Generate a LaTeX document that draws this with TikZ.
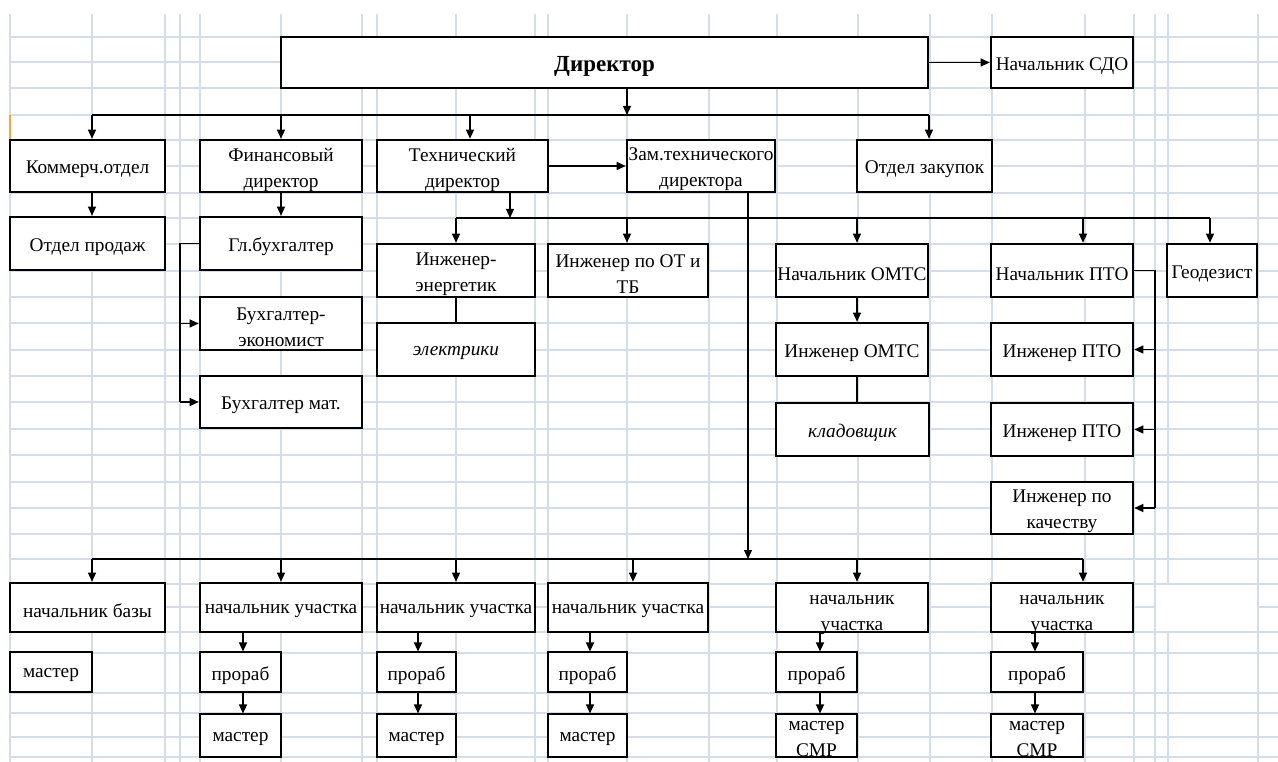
\documentclass[tikz,border=0pt]{standalone}
\usepackage{fontspec}
\setmainfont{Liberation Serif}
\usetikzlibrary{arrows.meta}
\newcommand\nf{\fontsize{19.3}{26}\selectfont}
\newcommand\bx[7]{\node[#1, minimum width={(#4-#2)*1pt}, minimum height={(#5-#3)*1pt}, label={[lbl]center:{#7}}] (#6) at ({(#2+#4)/2},{(#3+#5)/2}) {};}
\definecolor{gridc}{HTML}{D5DDEB}
\definecolor{selc}{HTML}{F4A540}
\tikzset{
  gridline/.style={draw=gridc, line width=1.1pt},
  box/.style={draw, line width=2.6pt, fill=white, inner sep=0pt},
  tbox/.style={draw, line width=1.1pt, fill=white, inner sep=0pt},
  lbl/.style={font=\nf, align=center, inner sep=0pt, yshift=-3.5pt},
  lowlbl/.style={label={[lbl, yshift=-4pt]center:{#1}}},
  conn/.style={line width=1.2pt},
  arr/.style={conn, -{Triangle[length=9pt,width=8pt]}},
}
\begin{document}
\begin{tikzpicture}[x=1pt,y=-1pt]
\useasboundingbox (0,0) rectangle (1278,762);
% spreadsheet grid
\foreach \x in {10,92,165,180,200,281,362,377,456,535,548,627,709,777,858,930,992,1085,1134,1155,1168,1258}
  \draw[gridline] (\x,14) -- (\x,762);
\foreach \y in {37,62,88,115,140,166,193,218,244,271,297,323,350,376,402,429,455,482,508,534,559,584,607,632,653,693,713,737,757}
  \draw[gridline] (10,\y) -- (1278,\y);
\fill[white] (1155.6,584.6) rectangle (1257.4,631.4);
\draw[selc, line width=1.6pt] (10,115) -- (10,140);

% boxes
\bx{box}{281}{37}{928}{88}{dir}{\fontsize{23}{26}\selectfont\bfseries Директор}
\bx{box}{991}{37}{1133}{88}{sdo}{Начальник СДО}
\bx{box}{10}{140}{165}{192}{komm}{Коммерч.отдел}
\bx{box}{200}{140}{362}{192}{fin}{Финансовый\\директор}
\bx{box}{377}{140}{548}{192}{tech}{Технический\\директор}
\bx{box}{627}{140}{775}{192}{zam}{Зам.технического\\директора}
\bx{box}{857}{140}{992}{192}{zak}{Отдел закупок}
\bx{box}{10}{217}{165}{270}{prod}{Отдел продаж}
\bx{box}{200}{217}{362}{270}{glb}{Гл.бухгалтер}
\bx{box}{200}{297}{362}{350}{ek}{Бухгалтер-\\экономист}
\bx{box}{200}{376}{362}{428}{mat}{Бухгалтер мат.}
\bx{box}{377}{244}{535}{297}{eng}{Инженер-\\энергетик}
\bx{box}{548}{244}{708}{297}{ot}{Инженер по ОТ и\\ТБ}
\bx{tbox}{377}{323}{535}{376}{el}{\itshape электрики}
\bx{box}{776}{244}{928}{297}{omts}{Начальник ОМТС}
\bx{box}{776}{323}{928}{376}{iomts}{Инженер ОМТС}
\bx{tbox}{776}{403}{929}{456}{klad}{\itshape кладовщик}
\bx{box}{991}{244}{1133}{297}{pto}{Начальник ПТО}
\bx{box}{1167}{244}{1257}{297}{geo}{Геодезист}
\bx{box}{991}{323}{1133}{376}{ipto1}{Инженер ПТО}
\bx{box}{991}{403}{1133}{456}{ipto2}{Инженер ПТО}
\bx{box}{991}{482}{1133}{534}{kach}{Инженер по\\качеству}
% bottom row
\bx{box}{10}{583}{165}{632}{baz}{начальник базы}
\bx{box}{200}{583}{362}{632}{u1}{начальник участка}
\bx{box}{377}{583}{535}{632}{u2}{начальник участка}
\bx{box}{548}{583}{708}{632}{u3}{начальник участка}
\node[box, minimum width=152pt, minimum height=49pt, lowlbl={начальник\\участка}] (u4) at (852,607.5) {};
\node[box, minimum width=142pt, minimum height=49pt, lowlbl={начальник\\участка}] (u5) at (1062,607.5) {};
\bx{tbox}{10}{652}{92}{692}{m0}{мастер}
\bx{tbox}{200}{652}{281}{692}{p1}{прораб}
\bx{tbox}{200}{714}{281}{757}{m1}{мастер}
\bx{tbox}{377}{652}{456}{692}{p2}{прораб}
\bx{tbox}{377}{714}{456}{757}{m2}{мастер}
\bx{tbox}{548}{652}{627}{692}{p3}{прораб}
\bx{tbox}{548}{714}{627}{757}{m3}{мастер}
\bx{tbox}{776}{652}{857}{692}{p4}{прораб}
\bx{tbox}{776}{714}{857}{757}{m4}{\fontsize{19.3}{21.5}\selectfont мастер\\СМР}
\bx{tbox}{991}{652}{1083}{692}{p5}{прораб}
\bx{tbox}{991}{714}{1083}{757}{m5}{\fontsize{19.3}{21.5}\selectfont мастер\\СМР}

% bus coordinates
\coordinate (b1) at (627,115);
\coordinate (t1a) at (92,115);
\coordinate (t1b) at (281,115);
\coordinate (t1c) at (470,115);
\coordinate (t1d) at (929,115);
\coordinate (b2) at (510,218);
\coordinate (t2a) at (456,218);
\coordinate (t2b) at (627,218);
\coordinate (t2c) at (857,218);
\coordinate (t2d) at (1083,218);
\coordinate (t2e) at (1210,218);
\coordinate (b3) at (748,559);
\coordinate (t3a) at (92,559);
\coordinate (t3b) at (281,559);
\coordinate (t3c) at (456,559);
\coordinate (t3d) at (633,559);
\coordinate (t3e) at (857,559);
\coordinate (t3f) at (1083,559);
\coordinate (gb) at (180,0);
\coordinate (pb) at (1155,0);
\coordinate (xu1) at (243,0);
\coordinate (xu2) at (418,0);
\coordinate (xu3) at (590,0);
\coordinate (xu4) at (820,0);
\coordinate (xu5) at (1035,0);

% connectors
\draw[arr] (dir.east) -- (sdo.west);
\draw[arr] (dir.south -| b1) -- (b1);
\draw[conn] (t1a) -- (t1d);
\draw[arr] (t1a) -- (t1a |- komm.north);
\draw[arr] (t1b) -- (t1b |- fin.north);
\draw[arr] (t1c) -- (t1c |- tech.north);
\draw[arr] (t1d) -- (t1d |- zak.north);
\draw[arr] (tech.east) -- (zam.west);
\draw[arr] (t1a |- komm.south) -- (t1a |- prod.north);
\draw[arr] (fin.south) -- (glb.north);
\draw[conn] (glb.west) -| (gb |- mat.west);
\draw[arr] (gb |- ek.west) -- (ek.west);
\draw[arr] (gb |- mat.west) -- (mat.west);

\draw[arr] (tech.south -| b2) -- (b2);
\draw[conn] (t2a) -- (t2e);
\draw[arr] (t2a) -- (t2a |- eng.north);
\draw[arr] (t2b) -- (t2b |- ot.north);
\draw[arr] (t2c) -- (t2c |- omts.north);
\draw[arr] (t2d) -- (t2d |- pto.north);
\draw[arr] (t2e) -- (t2e |- geo.north);
\draw[conn] (eng.south) -- (el.north);
\draw[arr] (t2c |- omts.south) -- (t2c |- iomts.north);
\draw[conn] (t2c |- iomts.south) -- (t2c |- klad.north);
\draw[conn] (pto.east) -| (pb |- kach.east);
\draw[arr] (pb |- ipto1.east) -- (ipto1.east);
\draw[arr] (pb |- ipto2.east) -- (ipto2.east);
\draw[arr] (pb |- kach.east) -- (kach.east);

\draw[arr] (zam.south -| b3) -- (b3);
\draw[conn] (t3a) -- (t3f);
\draw[arr] (t3a) -- (t3a |- baz.north);
\draw[arr] (t3b) -- (t3b |- u1.north);
\draw[arr] (t3c) -- (t3c |- u2.north);
\draw[arr] (t3d) -- (t3d |- u3.north);
\draw[arr] (t3e) -- (t3e |- u4.north);
\draw[arr] (t3f) -- (t3f |- u5.north);

\draw[arr] (xu1 |- u1.south) -- (xu1 |- p1.north);
\draw[arr] (xu1 |- p1.south) -- (xu1 |- m1.north);
\draw[arr] (xu2 |- u2.south) -- (xu2 |- p2.north);
\draw[arr] (xu2 |- p2.south) -- (xu2 |- m2.north);
\draw[arr] (xu3 |- u3.south) -- (xu3 |- p3.north);
\draw[arr] (xu3 |- p3.south) -- (xu3 |- m3.north);
\draw[arr] (xu4 |- u4.south) -- (xu4 |- p4.north);
\draw[arr] (xu4 |- p4.south) -- (xu4 |- m4.north);
\draw[arr] (xu5 |- u5.south) -- (xu5 |- p5.north);
\draw[arr] (xu5 |- p5.south) -- (xu5 |- m5.north);
\end{tikzpicture}
\end{document}
